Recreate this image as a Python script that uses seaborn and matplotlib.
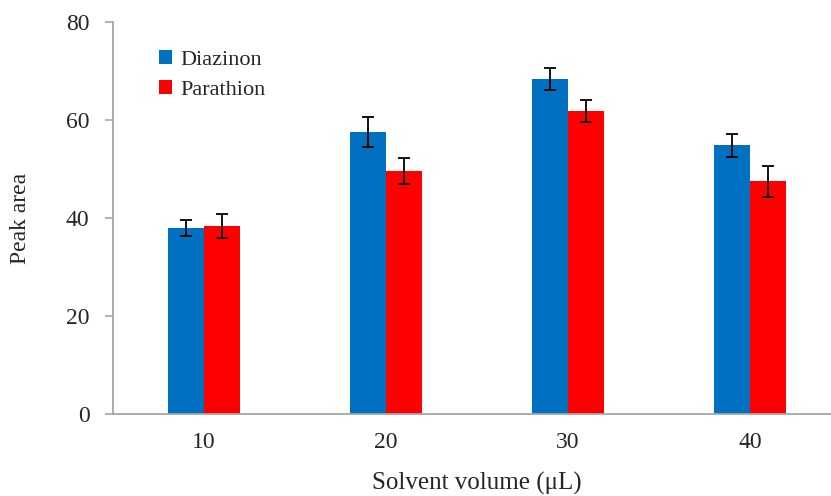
import pandas as pd
import matplotlib
matplotlib.use('Agg')
import matplotlib.pyplot as plt
import seaborn as sns

# dados
volumes = ['10', '20', '30', '40']
diazinon = [37.9, 57.6, 68.4, 54.8]
diazinon_err = [1.6, 3.1, 2.2, 2.35]
parathion = [38.4, 49.6, 61.8, 47.5]
parathion_err = [2.4, 2.6, 2.3, 3.2]
series = ['Diazinon', 'Parathion']
cores = ['#0070C0', '#FF0000']

df = pd.DataFrame({
    'volume': volumes * 2,
    'composto': ['Diazinon'] * 4 + ['Parathion'] * 4,
    'area': diazinon + parathion,
})
erros = {'Diazinon': diazinon_err, 'Parathion': parathion_err}

sns.set_style('white')
plt.rcParams['font.family'] = ['Liberation Serif', 'DejaVu Serif']

fig = plt.figure(figsize=(8.31, 4.96), dpi=100)
ax = fig.add_axes([113 / 831, 1 - 414 / 496, 728 / 831, 392 / 496])

sns.barplot(data=df, x='volume', y='area', hue='composto', hue_order=series,
            order=volumes, palette=cores, width=0.4, errorbar=None,
            linewidth=0, saturation=1, ax=ax)

# barras de erro
for cont, nome in zip(ax.containers, series):
    xs = [b.get_x() + b.get_width() / 2 for b in cont]
    ys = [b.get_height() for b in cont]
    ax.errorbar(xs, ys, yerr=erros[nome], fmt='none', ecolor='black',
                elinewidth=1.3, capsize=4.3, capthick=1.3, zorder=3)

ax.set_xlim(-0.5, 3.5)
ax.set_ylim(0, 80)
ax.set_yticks([0, 20, 40, 60, 80])

sns.despine(ax=ax)
for s in ['left', 'bottom']:
    ax.spines[s].set_color('#a6a6a6')
    ax.spines[s].set_linewidth(1.3)
ax.tick_params(axis='y', length=6, width=1.2, color='#a6a6a6', pad=11,
               labelsize=17, left=True)
ax.tick_params(axis='x', length=0, pad=13, labelsize=17)

ax.set_xlabel('Solvent volume (μL)', fontsize=18)
ax.set_ylabel('Peak area', fontsize=17)
ax.xaxis.set_label_coords(0.5, -0.148)
ax.yaxis.set_label_coords(-0.112, 0.5)

handles, labels = ax.get_legend_handles_labels()
ax.legend(handles, labels, loc='upper left', bbox_to_anchor=(159 / 831, 1 - 50 / 496),
          bbox_transform=fig.transFigure, frameon=False, fontsize=16,
          handlelength=0.6, handleheight=0.6, handletextpad=0.35,
          labelspacing=0.45, borderpad=0, borderaxespad=0, title=None)

fig.savefig('out.png', dpi=100)
